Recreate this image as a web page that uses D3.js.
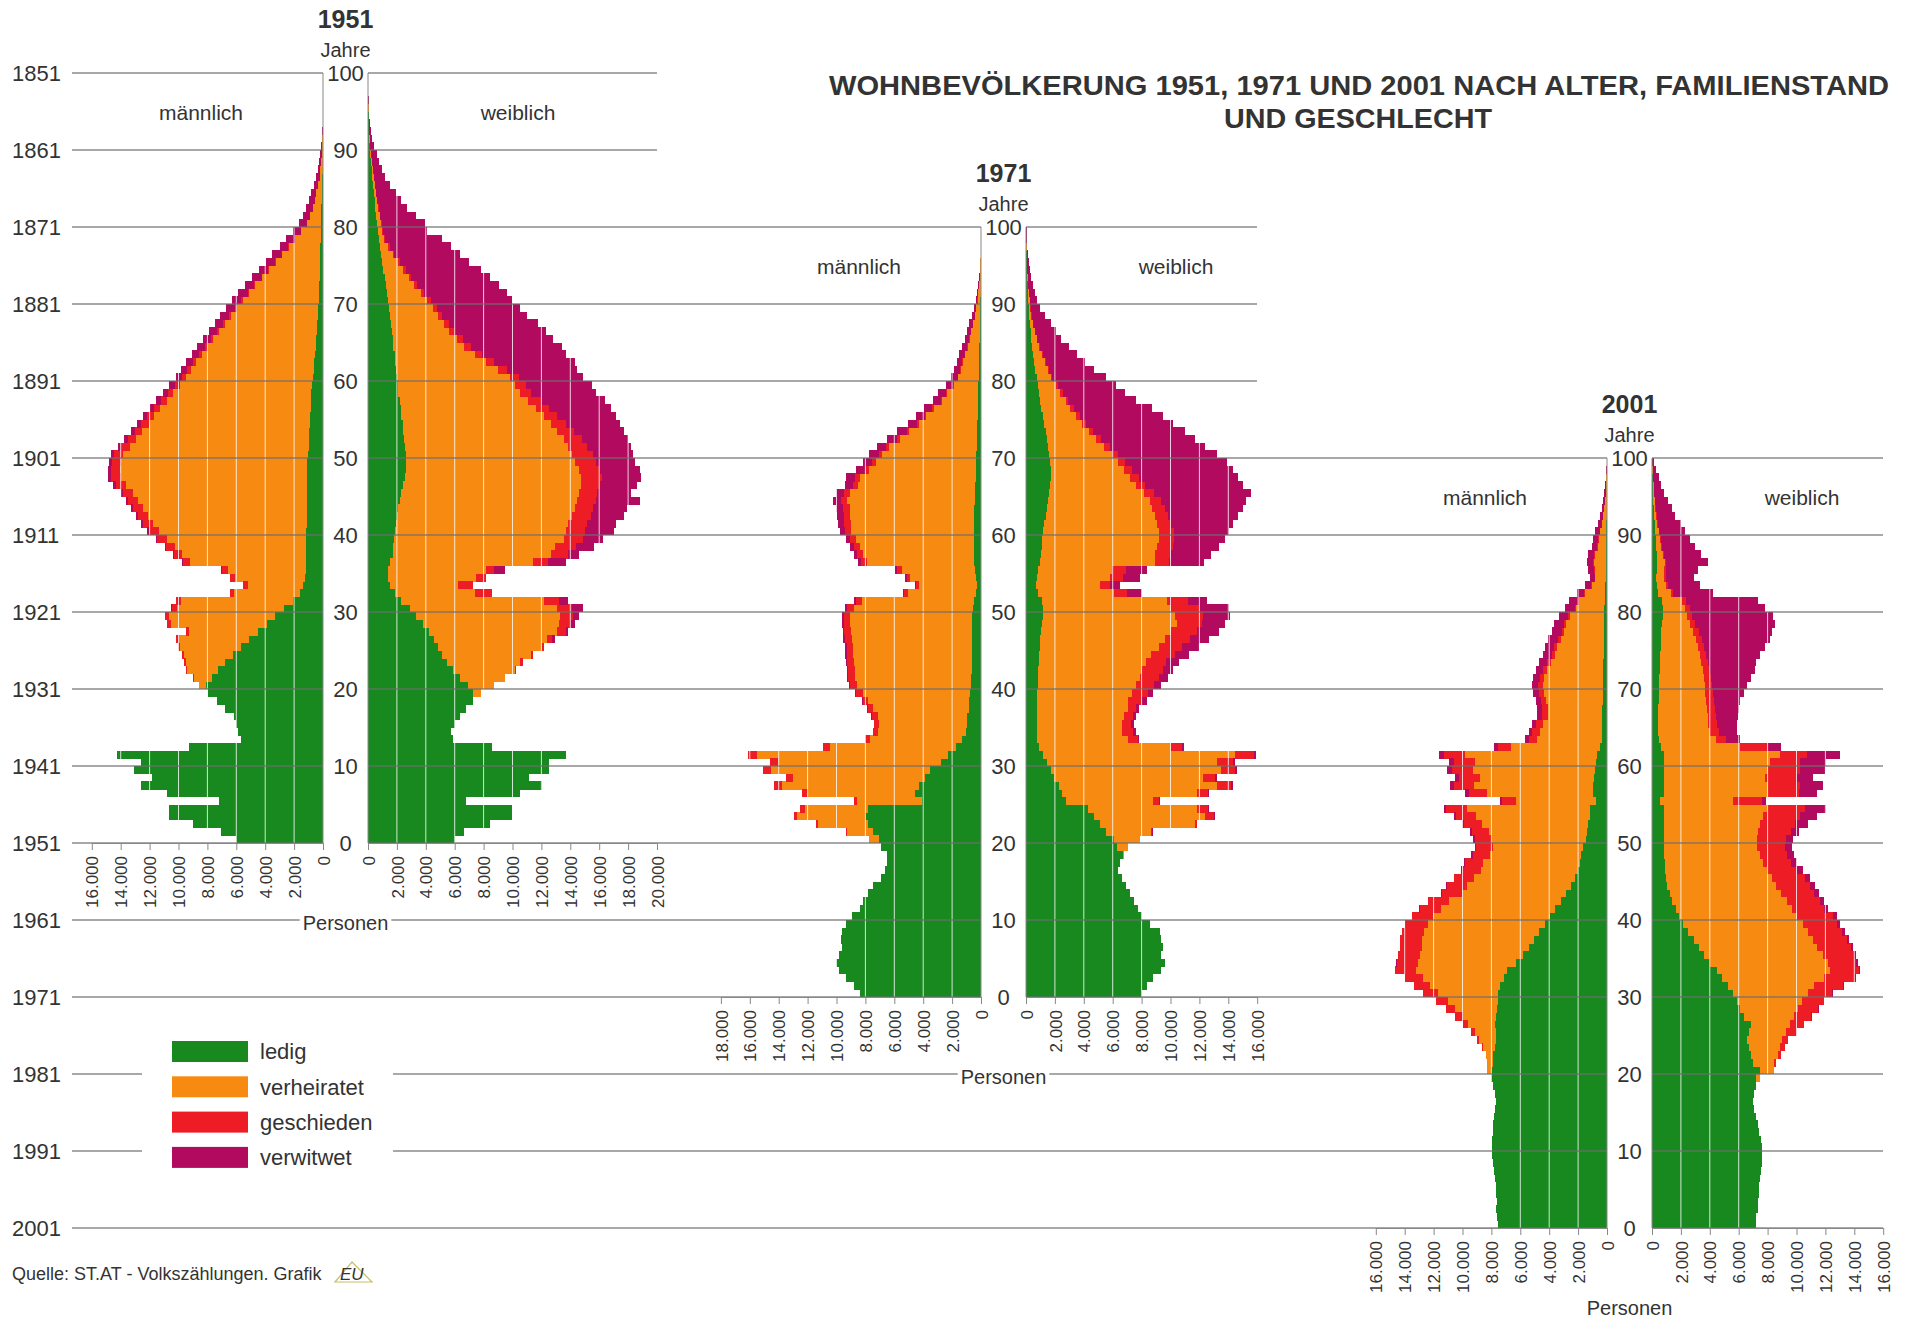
<!DOCTYPE html>
<html>
<head>
<meta charset="utf-8">
<script src="https://cdn.jsdelivr.net/npm/d3@7"></script>
<style>
  body { margin: 0; background: #fff; }
  text { font-family: "Liberation Sans", Arial, Helvetica, sans-serif; fill: #333; }
</style>
</head>
<body>
<svg id="chart" width="1910" height="1320"></svg>
<script>
// ---- data: persons per single year of age (index = age 0..99) ----
var statusLabels = ["ledig", "verheiratet", "geschieden", "verwitwet"];
var statusColors = ["#17891f", "#f78b12", "#ee1c24", "#b10a5f"];

var m51_ledig = [6000,7050,9000,10650,10650,7200,10800,12600,11850,13050,
 12600,14250,9300,5700,5900,6000,6150,6750,7350,7950,
 8100,7700,7300,6800,6250,5700,5100,4500,3900,3300,
 2700,2100,1600,1350,1250,1200,1150,1150,1150,1150,
 1150,1100,1100,1100,1100,1100,1100,1100,1100,1100,
 1050,1000,950,950,900,900,850,800,800,750,
 700,650,600,550,500,450,420,400,370,340,
 300,280,260,240,220,200,190,180,170,160,
 150,130,110,90,70,50,40,30,20,15,
 10,5,0,0,0,0,0,0,0,0];
var m51_verh = [0,0,0,0,0,0,0,0,0,0,
 0,0,0,0,0,0,0,0,0,0,
 450,1250,2100,2700,3400,4200,4900,4750,6650,7350,
 7430,7730,4530,3870,4820,5400,8040,8580,9120,9660,
 10200,10690,11030,11370,11710,12050,12540,12880,12920,12860,
 12800,12380,12010,11590,11170,10800,10420,10000,9560,9180,
 8750,8480,8160,7840,7470,7150,6760,6360,6020,5630,
 5250,4840,4420,3950,3530,3050,2640,2180,1760,1350,
 930,760,580,460,380,270,190,150,110,75,
 50,35,25,15,10,5,5,0,0,0];
var m51_gesch = [0,0,0,0,0,0,0,0,0,0,
 0,0,0,0,0,0,0,0,0,0,
 0,50,50,100,100,150,200,200,250,300,
 350,350,300,300,350,400,500,550,600,650,
 700,700,700,700,700,700,700,700,650,650,
 600,600,550,500,500,450,400,400,350,300,
 300,250,250,200,200,150,150,150,100,100,
 100,80,70,60,50,50,40,30,30,20,
 20,10,10,0,0,0,0,0,0,0,
 0,0,0,0,0,0,0,0,0,0];
var m51_verw = [0,0,0,0,0,0,0,0,0,0,
 0,0,0,0,0,0,0,0,0,0,
 0,0,0,0,0,0,0,0,0,0,
 20,20,20,30,30,50,60,70,80,90,
 100,110,120,130,140,150,160,170,180,190,
 200,220,240,260,280,300,330,360,390,420,
 450,470,490,510,530,550,570,590,610,630,
 650,650,650,650,650,650,630,610,590,570,
 550,500,450,400,350,280,220,170,120,90,
 60,40,25,15,10,5,0,0,0,0];

var w51_ledig = [6050,6650,8450,9950,9950,6800,10550,12050,11150,12500,
 12500,13700,8600,5900,5750,6050,6350,6800,7250,7250,
 6950,6350,5900,5450,5150,4850,4550,4250,3800,3350,
 2900,2300,1850,1550,1400,1400,1550,1700,1750,1800,
 1850,1950,2000,2100,2200,2300,2450,2550,2600,2600,
 2600,2550,2500,2450,2400,2300,2250,2200,2100,2050,
 2000,1950,1900,1850,1750,1700,1650,1600,1500,1450,
 1400,1300,1250,1150,1050,1000,900,850,750,700,
 650,550,500,450,400,350,300,250,200,150,
 120,100,80,60,40,30,20,10,5,2];
var w51_verh = [0,0,0,0,0,0,0,0,0,0,
 0,0,0,0,0,0,0,0,0,600,
 1800,3100,4250,5100,6150,7200,7850,8850,9450,9950,
 10200,9900,5550,4650,6100,6750,9900,10950,11200,11750,
 11850,11900,12150,12200,12250,12300,12300,12200,12000,11750,
 11550,11300,11050,10650,10250,9850,9350,8900,8450,8150,
 7800,7050,6250,5550,4900,4450,3950,3650,3350,3050,
 2700,2350,1950,1700,1400,1100,800,550,350,300,
 250,250,200,170,150,130,100,80,70,60,
 40,20,15,10,10,5,0,0,0,0];
var w51_gesch = [0,0,0,0,0,0,0,0,0,0,
 0,0,0,0,0,0,0,0,0,0,
 0,50,100,150,150,150,300,600,750,900,
 1050,1050,1200,1050,700,600,1000,1200,1450,1350,
 1300,1300,1300,1300,1300,1250,1300,1450,1450,1450,
 1400,1300,1250,1150,1050,950,900,850,750,700,
 650,600,550,500,450,450,400,350,300,300,
 250,200,200,150,150,120,100,100,80,60,
 50,40,30,30,20,20,10,10,10,0,
 0,0,0,0,0,0,0,0,0,0];
var w51_verw = [0,0,0,0,0,0,0,0,0,0,
 0,0,0,0,0,0,0,0,0,0,
 0,0,0,0,0,0,250,150,300,400,
 750,600,0,0,0,750,1250,750,1250,1350,
 2000,2000,2300,2300,3050,2350,2600,2700,2750,2700,
 2800,3050,3200,3500,3750,4050,4350,4450,4500,4600,
 4450,4850,5600,5800,6300,6200,6350,6150,5850,5750,
 5600,5800,5650,5450,5250,4750,4550,4250,3950,3050,
 3000,2500,2000,1650,1350,1000,800,650,500,400,
 250,180,100,80,50,45,30,20,15,8];

var m71_ledig = [8400,8800,9350,9800,10050,9800,9650,9700,9650,9350,
 8950,8400,8150,7850,7450,6900,6650,6500,6500,6900,
 7050,7450,7850,8000,7850,4050,4600,4300,3900,3500,
 2800,2250,1700,1300,1050,1000,950,850,800,750,
 700,700,650,650,650,600,600,600,600,600,
 550,500,350,300,350,400,500,500,500,500,
 480,470,460,450,440,420,400,380,360,350,
 330,310,290,270,250,230,210,200,190,180,
 170,160,150,140,120,100,90,80,60,50,
 40,30,20,15,10,5,3,2,1,0];
var m71_verh = [0,0,0,0,0,0,0,0,0,0,
 0,0,0,0,0,0,0,0,0,0,
 700,1850,3450,4750,4350,4500,7400,9500,9100,11050,
 11250,13250,8750,6350,6100,6050,6200,6600,7000,7450,
 7900,8050,8100,8150,8200,8250,8350,8400,8450,8450,
 8250,7750,4700,4000,4550,5100,7400,7650,7900,8150,
 8500,8550,8600,8650,8800,8650,8100,8000,7400,6950,
 6500,6050,5350,4700,4050,3550,3050,2500,2150,1700,
 1400,1250,1100,950,800,680,580,490,360,270,
 200,150,120,70,45,30,15,10,5,3];
var m71_gesch = [0,0,0,0,0,0,0,0,0,0,
 0,0,0,0,0,0,0,0,0,0,
 0,50,100,200,300,250,400,500,500,550,
 550,600,450,350,350,350,400,400,400,450,
 450,450,450,450,450,450,450,450,450,450,
 450,400,250,200,250,300,400,400,400,400,
 450,450,450,450,450,400,350,350,300,250,
 250,200,180,160,140,120,100,80,70,60,
 50,40,35,30,25,20,15,10,10,5,
 5,0,0,0,0,0,0,0,0,0];
var m71_verw = [0,0,0,0,0,0,0,0,0,0,
 0,0,0,0,0,0,0,0,0,0,
 0,0,0,0,0,0,0,0,0,0,
 0,0,0,0,0,30,30,40,40,50,
 60,70,80,90,100,110,120,130,140,150,
 170,170,100,100,120,150,230,260,290,320,
 360,400,440,480,520,560,580,600,620,640,
 650,660,660,650,640,620,600,570,540,500,
 470,440,410,380,350,300,260,220,170,130,
 100,70,60,35,25,15,10,5,3,1];

var w71_ledig = [8000,8400,8800,9350,9650,9350,9500,9350,9250,8550,
 8000,7750,7450,7200,6900,6650,6350,6500,6700,6300,
 6080,5530,5120,4710,4300,2790,2520,2250,1970,1700,
 1420,1150,880,740,740,740,740,740,740,740,
 800,820,850,880,900,950,1000,1050,1100,1150,
 1200,1100,800,700,750,800,1000,1050,1100,1100,
 1150,1250,1350,1450,1550,1600,1650,1700,1700,1650,
 1600,1550,1450,1350,1250,1150,1050,950,880,800,
 740,650,560,490,430,380,330,280,230,200,
 170,140,110,90,70,50,40,30,20,10];
var w71_verh = [0,0,0,0,0,0,0,0,0,0,
 0,0,0,0,0,0,0,0,50,750,
 1780,3150,6580,7670,7540,6030,9320,10950,10280,11780,
 11780,13290,9120,6300,5890,5890,6030,6300,6300,6580,
 6790,7040,7150,7390,7780,8280,8640,9000,9370,9180,
 8850,8680,5280,4420,5060,5150,7900,7910,8000,8100,
 8080,7850,7610,7300,7000,6540,5940,5500,5070,4700,
 4350,3850,3400,3000,2640,2330,2020,1800,1500,1250,
 960,850,730,590,450,360,270,200,150,100,
 80,60,40,20,10,10,5,5,5,2];
var w71_gesch = [0,0,0,0,0,0,0,0,0,0,
 0,0,0,0,0,0,0,0,0,0,
 0,60,150,600,750,400,750,1000,850,1000,
 1100,1350,800,700,800,650,650,600,1000,1100,
 1250,1350,1450,1450,1600,1600,1700,1800,1700,1900,
 1950,1400,900,700,900,1000,1000,1000,1050,1050,
 1000,950,900,850,800,700,650,600,550,500,
 450,400,350,300,280,250,220,190,160,140,
 120,100,80,70,60,50,40,30,25,20,
 15,10,8,5,3,0,0,0,0,0];
var w71_verw = [0,0,0,0,0,0,0,0,0,0,
 0,0,0,0,0,0,0,0,0,0,
 0,60,0,70,60,30,60,100,100,120,
 150,160,100,110,170,170,180,210,360,380,
 510,590,750,880,1020,1120,1310,1500,1580,1920,
 2050,1320,1020,680,1190,1450,2400,2840,3200,3500,
 3820,4250,4840,5400,5900,6710,6760,6900,6980,7050,
 6800,6600,6500,6350,6030,5770,5410,4660,4310,4010,
 3730,3100,2680,2350,2010,1660,1410,1190,895,680,
 485,390,292,235,167,120,95,65,55,28];

var m01_ledig = [7530,7600,7650,7600,7650,7700,7780,7850,7900,7950,
 7950,7950,7900,7900,7850,7780,7700,7780,7900,8020,
 8020,7900,7900,7780,7650,7650,7780,7700,7600,7530,
 7530,7410,7160,6910,6300,5800,5430,5060,4690,4320,
 3950,3580,3210,2840,2470,2220,1980,1850,1780,1650,
 1480,1400,1300,1200,1150,750,1000,950,880,820,
 760,700,450,350,340,340,330,320,300,290,
 280,270,260,250,240,230,220,210,200,190,
 180,170,150,110,90,90,90,80,70,60,
 50,40,30,20,15,10,8,5,3,1];
var m01_verh = [0,0,0,0,0,0,0,0,0,0,
 0,0,0,0,0,0,0,0,0,0,
 250,370,480,810,1210,1480,1870,2290,2910,3470,
 4190,4820,5580,6320,6760,7130,7370,7740,7990,8100,
 8070,7930,7700,7190,7190,6990,6770,6700,6310,6240,
 6510,6760,7360,7890,8520,5550,7270,8240,7940,8470,
 8400,9100,6200,4470,4290,4080,3740,3750,3890,4070,
 4120,4070,3860,3610,3350,3220,2970,2740,2640,2340,
 1940,1740,1340,930,710,760,810,750,580,520,
 440,305,240,180,110,90,60,35,15,6];
var m01_gesch = [0,0,0,0,0,0,0,0,0,0,
 0,0,0,0,0,0,0,0,0,0,
 0,0,20,50,150,250,350,500,600,850,
 1000,1100,1200,1450,1500,1500,1500,1500,1500,1500,
 1450,1450,1450,1400,1400,1350,1300,1250,1200,1150,
 1150,1200,1250,1350,1450,950,1300,1400,1400,1450,
 1450,1450,900,600,550,500,450,420,400,380,
 350,320,300,270,250,230,200,180,160,140,
 120,100,90,60,50,50,50,40,30,25,
 20,15,10,8,5,3,0,0,0,0];
var m01_verw = [0,0,0,0,0,0,0,0,0,0,
 0,0,0,0,0,0,0,0,0,0,
 0,0,0,0,0,0,0,0,0,0,
 5,5,10,10,15,15,20,20,25,30,
 35,40,45,50,55,60,70,80,90,100,
 110,120,140,160,180,130,230,260,280,310,
 340,400,300,230,250,270,290,320,350,400,
 440,480,520,560,600,640,680,700,700,680,
 660,640,520,400,350,400,450,430,370,350,
 320,240,200,160,120,100,70,40,20,8];

var w01_ledig = [7210,7210,7330,7330,7410,7410,7460,7520,7580,7580,
 7580,7520,7410,7330,7210,7090,7010,7090,7210,7210,
 7460,6960,6840,6720,6590,6720,6840,6350,6100,5850,
 5600,5230,4860,4490,4000,3630,3260,2890,2520,2150,
 1900,1650,1410,1230,1040,950,900,870,850,850,
 850,850,850,850,850,550,800,800,800,800,
 800,800,600,450,430,430,430,440,450,460,
 480,500,520,540,560,590,620,650,700,730,
 750,720,420,330,300,330,380,340,300,260,
 220,190,150,120,100,80,60,40,25,15];
var w01_verh = [0,0,0,0,0,0,0,0,0,0,
 0,0,0,0,0,0,0,0,0,250,
 980,1490,1860,2130,2410,2580,2710,3450,4000,4550,
 5200,5970,7040,7860,8150,8220,8190,8260,8280,8300,
 8150,8030,7900,7710,7530,7370,7050,6830,6600,6450,
 6390,6500,6620,6850,7080,5070,7240,7240,7050,7240,
 7360,8050,5480,3950,3570,3470,3420,3360,3300,3240,
 3170,3100,2980,2860,2740,2610,2430,2200,1950,1720,
 1550,1330,880,670,550,520,520,410,350,290,
 230,190,150,120,90,70,50,35,20,10];
var w01_gesch = [0,0,0,0,0,0,0,0,0,0,
 0,0,0,0,0,0,0,0,0,0,
 0,120,240,340,430,740,980,1230,1410,1470,
 1680,2000,2150,1950,2000,2150,2300,2320,2380,2340,
 2450,2200,2300,2280,2380,2240,2100,1950,1900,1900,
 2050,2250,2450,2550,2650,2000,2150,2200,2150,2200,
 2100,1900,1900,700,650,600,600,580,560,550,
 530,510,490,470,450,430,400,370,350,320,
 300,270,150,110,90,90,90,80,70,60,
 50,40,30,25,20,15,10,5,3,2];
var w01_verw = [0,0,0,0,0,0,0,0,0,0,
 0,0,0,0,0,0,0,0,0,0,
 0,0,0,0,0,10,10,10,20,30,
 40,60,70,70,100,120,130,160,200,220,
 270,270,290,310,330,350,370,400,450,500,
 460,600,880,1150,1470,280,1210,1610,1150,1710,
 1790,2250,970,1000,1250,1350,1500,1620,1790,2100,
 2420,2740,3110,3330,3700,4220,4750,5080,5500,5580,
 5250,5030,2750,2190,1960,2260,2860,2570,2280,2040,
 1800,1580,1270,1085,890,685,530,370,252,123];

// tick labels
var ticks16 = [0,2000,4000,6000,8000,10000,12000,14000,16000];
var ticks18 = [0,2000,4000,6000,8000,10000,12000,14000,16000,18000];
var ticks20 = [0,2000,4000,6000,8000,10000,12000,14000,16000,18000,20000];
var ageTicks = [0,10,20,30,40,50,60,70,80,90,100];
var lineYears = [1851,1861,1871,1881,1891,1901,1911,1921,1931,1941,1951,1961,1971,1981,1991,2001];

var pyramids = [
  {year: 1951, maleAxis: 323, femaleAxis: 368, maleTicks: ticks16, femaleTicks: ticks20,
   male: [m51_ledig, m51_verh, m51_gesch, m51_verw], female: [w51_ledig, w51_verh, w51_gesch, w51_verw]},
  {year: 1971, maleAxis: 981, femaleAxis: 1026, maleTicks: ticks18, femaleTicks: ticks16,
   male: [m71_ledig, m71_verh, m71_gesch, m71_verw], female: [w71_ledig, w71_verh, w71_gesch, w71_verw]},
  {year: 2001, maleAxis: 1607, femaleAxis: 1652, maleTicks: ticks16, femaleTicks: ticks16,
   male: [m01_ledig, m01_verh, m01_gesch, m01_verw], female: [w01_ledig, w01_verh, w01_gesch, w01_verw]}
];

// ---- drawing ----
var svg = d3.select("#chart");
var fmt = d3.formatLocale({decimal: ",", thousands: ".", grouping: [3], currency: ["", ""]}).format(",");
var yearY = d3.scaleLinear().domain([1851, 2001]).range([73, 1228]);
var pxPer = 14.45 / 1000;   // pixel per person

var gBars = svg.append("g"), gGrid = svg.append("g"), gLines = svg.append("g"), gText = svg.append("g");

function drawSide(p, series, x, y) {
  var rows = d3.range(series[0].length).map(function (a) {
    var r = {age: a};
    statusLabels.forEach(function (k, i) { r[k] = series[i][a]; });
    return r;
  });
  var layers = d3.stack().keys(statusLabels)(rows);
  gBars.append("g").selectAll("g")
    .data(layers)
    .join("g")
      .attr("fill", function (d, i) { return statusColors[i]; })
      .attr("shape-rendering", "crispEdges")
    .selectAll("rect")
    .data(function (d) { return d; })
    .join("rect")
      .attr("x", function (d) { return Math.min(x(d[0]), x(d[1])); })
      .attr("width", function (d) { return Math.abs(x(d[1]) - x(d[0])); })
      .attr("y", function (d) { return y(d.data.age + 1); })
      .attr("height", function (d) { return y(d.data.age) - y(d.data.age + 1) + 0.4; });
}

pyramids.forEach(function (p) {
  var base = yearY(p.year);
  p.y = d3.scaleLinear().domain([0, 100]).range([base, yearY(p.year - 100)]);
  var mMax = d3.max(p.maleTicks), fMax = d3.max(p.femaleTicks);
  p.xm = d3.scaleLinear().domain([0, mMax]).range([p.maleAxis, p.maleAxis - mMax * pxPer]);
  p.xf = d3.scaleLinear().domain([0, fMax]).range([p.femaleAxis, p.femaleAxis + fMax * pxPer]);

  drawSide(p, p.male, p.xm, p.y);
  drawSide(p, p.female, p.xf, p.y);

  // white grid lines through the bars
  [[p.xm, p.maleTicks], [p.xf, p.femaleTicks]].forEach(function (s) {
    gGrid.selectAll(null)
      .data(s[1].filter(function (t) { return t > 0; }))
      .join("line")
        .attr("x1", function (d) { return s[0](d); })
        .attr("x2", function (d) { return s[0](d); })
        .attr("y1", p.y(0)).attr("y2", p.y(100))
        .attr("stroke", "#fff").attr("stroke-opacity", 0.8).attr("stroke-width", 1);
  });
});

// year lines across the whole sheet
function segments(yr) {
  var x0 = 72, x1 = yr < 1871 ? 657 : (yr < 1901 ? 1257 : 1883);
  var gaps = [];
  pyramids.forEach(function (p) {
    if (yr <= p.year && yr >= p.year - 100) gaps.push([p.maleAxis, p.femaleAxis]);
  });
  if (yr === 1981 || yr === 1991) gaps.push([142, 393]);
  gaps.sort(function (a, b) { return a[0] - b[0]; });
  var segs = [], cur = x0;
  gaps.forEach(function (g) {
    if (g[0] > cur) segs.push([cur, Math.min(g[0], x1)]);
    cur = Math.max(cur, g[1]);
  });
  if (cur < x1) segs.push([cur, x1]);
  return segs;
}

lineYears.forEach(function (yr) {
  var yy = yearY(yr);
  gLines.selectAll(null)
    .data(segments(yr))
    .join("line")
      .attr("x1", function (d) { return d[0]; })
      .attr("x2", function (d) { return d[1]; })
      .attr("y1", yy).attr("y2", yy)
      .attr("stroke", "#6f6f6f").attr("stroke-opacity", 0.8).attr("stroke-width", 1.4);
  gText.append("text")
    .attr("x", 12).attr("y", yy).attr("dy", "0.36em")
    .attr("font-size", 22)
    .text(yr);
});

pyramids.forEach(function (p) {
  var base = p.y(0), top = p.y(100), mid = (p.maleAxis + p.femaleAxis) / 2;

  // vertical axis lines
  [p.maleAxis, p.femaleAxis].forEach(function (ax) {
    gLines.append("line")
      .attr("x1", ax).attr("x2", ax).attr("y1", base).attr("y2", top)
      .attr("stroke", "#888").attr("stroke-width", 1);
  });

  // bottom axes with rotated tick labels
  [p.xm, p.xf].forEach(function (sc, i) {
    var ax = gLines.append("g")
      .attr("transform", "translate(0," + base + ")")
      .call(d3.axisBottom(sc)
        .tickValues(i === 0 ? p.maleTicks : p.femaleTicks)
        .tickSize(7).tickSizeOuter(0)
        .tickFormat(fmt));
    ax.select(".domain").attr("stroke", "#888");
    ax.selectAll(".tick line").attr("stroke", "#888");
    ax.selectAll(".tick text")
      .attr("transform", "rotate(-90)")
      .attr("text-anchor", "end")
      .attr("x", -13).attr("y", 0).attr("dy", "0.36em")
      .attr("font-size", 17)
      .attr("font-family", "\"Liberation Sans\", Arial, sans-serif")
      .attr("fill", "#444");
  });

  // age labels between the two axes
  gText.selectAll(null)
    .data(ageTicks)
    .join("text")
      .attr("x", mid).attr("y", function (d) { return p.y(d); })
      .attr("dy", "0.36em").attr("text-anchor", "middle")
      .attr("font-size", 22)
      .text(function (d) { return d; });

  gText.append("text")
    .attr("x", mid).attr("y", top - 45).attr("text-anchor", "middle")
    .attr("font-size", 25).attr("font-weight", "bold").attr("fill", "#222")
    .text(p.year);
  gText.append("text")
    .attr("x", mid).attr("y", top - 16).attr("text-anchor", "middle")
    .attr("font-size", 20)
    .text("Jahre");
  gText.append("text")
    .attr("x", p.maleAxis - 122).attr("y", top + 47).attr("text-anchor", "middle")
    .attr("font-size", 21)
    .text("männlich");
  gText.append("text")
    .attr("x", p.femaleAxis + 150).attr("y", top + 47).attr("text-anchor", "middle")
    .attr("font-size", 21)
    .text("weiblich");

  // "Personen" sits on a year line, with a white patch behind it
  var pt = gText.append("text")
    .attr("x", mid).attr("y", base + 80).attr("dy", "0.36em").attr("text-anchor", "middle")
    .attr("font-size", 20)
    .text("Personen");
  var bb = pt.node().getBBox();
  gText.insert("rect", function () { return pt.node(); })
    .attr("x", bb.x - 3).attr("y", bb.y).attr("width", bb.width + 6).attr("height", bb.height)
    .attr("fill", "#fff");
});

// legend
var legend = gText.append("g").attr("transform", "translate(172,1041)");
legend.selectAll("rect")
  .data(statusLabels)
  .join("rect")
    .attr("x", 0).attr("y", function (d, i) { return i * 35.3; })
    .attr("width", 76).attr("height", 21)
    .attr("fill", function (d, i) { return statusColors[i]; });
legend.selectAll("text")
  .data(statusLabels)
  .join("text")
    .attr("x", 88).attr("y", function (d, i) { return i * 35.3 + 10.5; })
    .attr("dy", "0.36em").attr("font-size", 22)
    .text(function (d) { return d; });

// title
gText.append("text")
  .attr("x", 1359).attr("y", 95).attr("text-anchor", "middle")
  .attr("font-family", "\"Liberation Sans Narrow\", \"Arial Narrow\", \"Liberation Sans\", sans-serif")
  .attr("font-weight", "bold").attr("font-size", 27).attr("fill", "#111")
  .attr("textLength", 1060).attr("lengthAdjust", "spacingAndGlyphs")
  .text("WOHNBEVÖLKERUNG 1951, 1971 UND 2001 NACH ALTER, FAMILIENSTAND");
gText.append("text")
  .attr("x", 1358).attr("y", 128).attr("text-anchor", "middle")
  .attr("font-family", "\"Liberation Sans Narrow\", \"Arial Narrow\", \"Liberation Sans\", sans-serif")
  .attr("font-weight", "bold").attr("font-size", 27).attr("fill", "#111")
  .attr("textLength", 268).attr("lengthAdjust", "spacingAndGlyphs")
  .text("UND GESCHLECHT");

// source line with small logo
gText.append("text")
  .attr("x", 12).attr("y", 1280).attr("font-size", 18).attr("fill", "#444")
  .text("Quelle: ST.AT - Volkszählungen. Grafik");
gText.append("path")
  .attr("d", "M335,1282 L352,1262 L372,1282 Z")
  .attr("fill", "none").attr("stroke", "#c9bd6a").attr("stroke-width", 1.2);
gText.append("text")
  .attr("x", 340).attr("y", 1280).attr("font-size", 17).attr("font-style", "italic")
  .attr("fill", "#b5a642")
  .text("EU");
</script>
</body>
</html>
